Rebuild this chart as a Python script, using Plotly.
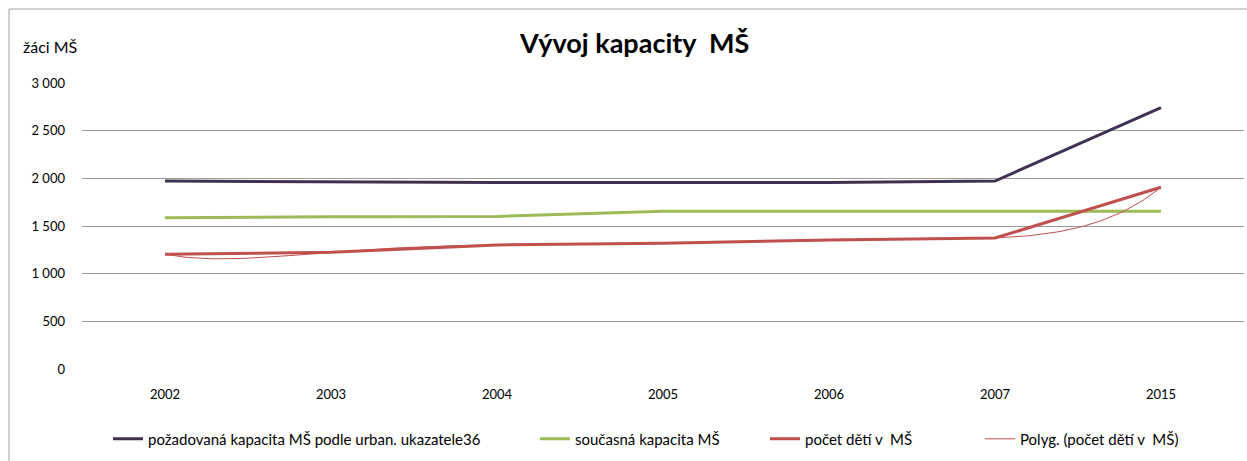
import numpy as np
import plotly.graph_objects as go

years = ['2002', '2003', '2004', '2005', '2006', '2007', '2015']
pozadovana = [1972, 1962, 1956, 1956, 1956, 1972, 2741]
soucasna = [1587, 1598, 1600, 1655, 1655, 1655, 1655]
pocet_deti = [1203, 1224, 1302, 1318, 1353, 1374, 1906]

x_idx = list(range(len(years)))

# polynomial trendline (like Excel "Polyg."), order 6
coef = np.polyfit(x_idx, pocet_deti, 6)
x_fine = np.linspace(0, len(years) - 1, 300)
y_trend = np.polyval(coef, x_fine)

font_name = 'Lato'

# plot area in pixels: left 82, width 1162
def px_to_paper_x(px):
    return (px - 82) / 1162

fig = go.Figure()
fig.add_trace(go.Scatter(
    x=x_idx, y=pozadovana, mode='lines',
    name='požadovaná kapacita MŠ podle urban. ukazatele36',
    line=dict(color='#3F3151', width=3),
    legend='legend',
))
fig.add_trace(go.Scatter(
    x=x_idx, y=soucasna, mode='lines',
    name='současná kapacita MŠ',
    line=dict(color='#9BBB59', width=3),
    legend='legend2',
))
fig.add_trace(go.Scatter(
    x=x_idx, y=pocet_deti, mode='lines',
    name='počet dětí v  MŠ',
    line=dict(color='#C0504D', width=3),
    legend='legend3',
))
fig.add_trace(go.Scatter(
    x=x_fine, y=y_trend, mode='lines',
    name='Polyg. (počet dětí v  MŠ)',
    line=dict(color='#C0504D', width=1),
    legend='legend4',
))

fig.update_xaxes(
    range=[-0.5, 6.5],
    tickvals=x_idx, ticktext=years,
    showgrid=False, zeroline=False, showline=False,
    ticks='', tickfont=dict(size=13, color='#000000'),
    ticklabelstandoff=16, automargin=False,
)
fig.update_yaxes(
    range=[0, 3000], dtick=500, tickformat=',d',
    showgrid=True, gridcolor='#9a9a9a', gridwidth=1,
    zeroline=False, showline=False,
    ticks='', tickfont=dict(size=13, color='#000000'),
    ticklabelstandoff=16, automargin=False,
)

legend_style = dict(
    orientation='h', xanchor='left', y=-0.245, yanchor='middle',
    font=dict(size=15, color='#000000'), itemwidth=30,
    bgcolor='rgba(0,0,0,0)',
)

fig.update_layout(
    width=1247, height=461,
    margin=dict(l=82, r=3, t=83, b=92),
    paper_bgcolor='white', plot_bgcolor='white',
    separators=', ',
    font=dict(family=font_name, color='#000000'),
    title=dict(
        text='<b>Vývoj kapacity  MŠ</b>',
        x=0.509, xanchor='center', y=0.905, yanchor='middle',
        font=dict(size=27, family=font_name, color='#000000'),
    ),
    showlegend=True,
    legend=dict(legend_style, x=px_to_paper_x(108)),
    legend2=dict(legend_style, x=px_to_paper_x(535)),
    legend3=dict(legend_style, x=px_to_paper_x(765)),
    legend4=dict(legend_style, x=px_to_paper_x(980)),
    annotations=[dict(
        text='žáci MŠ', xref='paper', yref='paper',
        x=px_to_paper_x(21), y=1.129, xanchor='left', yanchor='middle',
        showarrow=False, font=dict(size=16, color='#000000'),
    )],
    shapes=[dict(
        type='rect', xref='paper', yref='paper',
        x0=px_to_paper_x(9), x1=1.01, y0=-0.5, y1=1.2587,
        line=dict(color='#a0a0a0', width=1), layer='below',
    )],
)

fig.write_html('out.html', config={'displayModeBar': False},
               post_script="document.body.style.margin='0';")
